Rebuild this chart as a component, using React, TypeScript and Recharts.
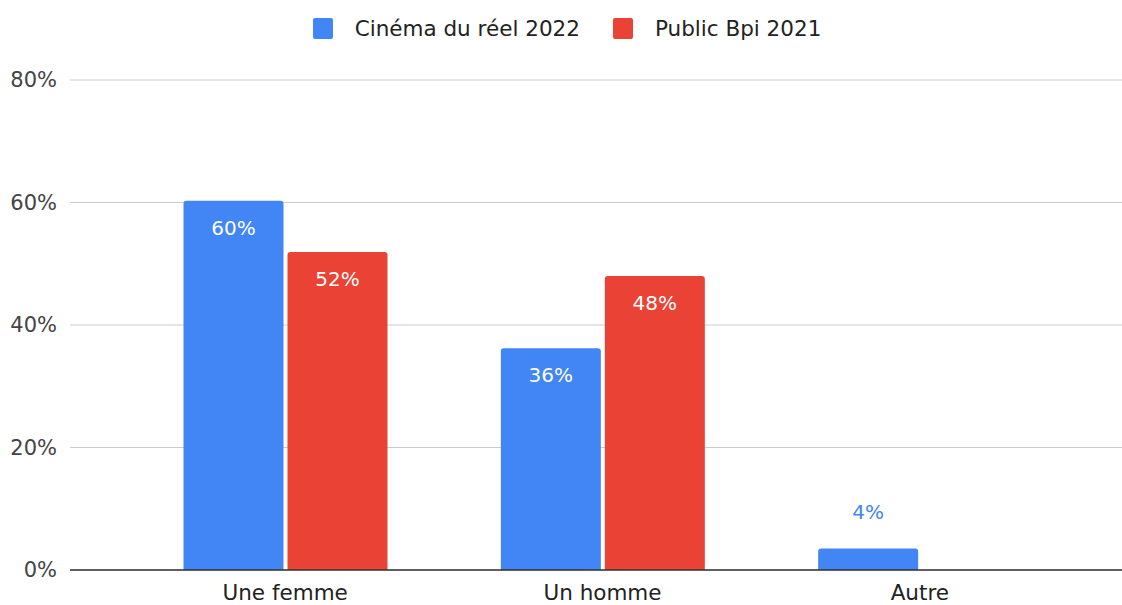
import React from 'react';
import { BarChart, Bar, XAxis, YAxis, CartesianGrid, Legend, LabelList } from 'recharts';

const categories = ['Une femme', 'Un homme', 'Autre'];
const cinemaDuReel2022 = [60.3, 36.2, 3.5];
const publicBpi2021 = [51.9, 48.0, 0];
const seriesNames = ['Cinéma du réel 2022', 'Public Bpi 2021'];
const yTicks = [0, 20, 40, 60, 80];

const BLUE = '#4285F4';
const RED = '#EA4335';
const FONT = '"DejaVu Sans", sans-serif';

const data = categories.map((c, i) => ({
  name: c,
  cinema: cinemaDuReel2022[i],
  bpi: publicBpi2021[i],
}));

const makeLabel = (color: string) => (props: any) => {
  const { x, y, width, height, value } = props;
  if (!value) return null;
  const text = Math.round(Number(value)) + '%';
  const cx = Number(x) + Number(width) / 2;
  const inside = Number(height) > 45;
  return (
    <text
      x={cx}
      y={inside ? Number(y) + 27 : Number(y) - 37}
      textAnchor="middle"
      dominantBaseline="central"
      fill={inside ? '#ffffff' : color}
      fontSize={20}
      fontFamily={FONT}
    >
      {text}
    </text>
  );
};

const LegendContent = () => (
  <div
    style={{
      height: 56,
      display: 'flex',
      justifyContent: 'center',
      alignItems: 'center',
      fontFamily: FONT,
      fontSize: 21.5,
      color: '#222',
      paddingLeft: 12,
      boxSizing: 'border-box',
    }}
  >
    {seriesNames.map((n, i) => (
      <div key={n} style={{ display: 'flex', alignItems: 'center', marginLeft: i === 0 ? 0 : 33 }}>
        <div
          style={{
            width: 20,
            height: 21,
            borderRadius: 2,
            background: i === 0 ? BLUE : RED,
            marginRight: 22,
          }}
        />
        <span>{n}</span>
      </div>
    ))}
  </div>
);

export default function App() {
  return (
    <div style={{ position: 'absolute', left: 0, top: 0, width: 1122, height: 605, background: '#fff' }}>
      <BarChart
        width={1122}
        height={605}
        data={data}
        margin={{ top: 24, right: 0, bottom: 0, left: 0 }}
        barSize={100}
        barGap={4}
      >
        <Legend verticalAlign="top" align="center" content={<LegendContent />} wrapperStyle={{ top: 0, left: 0, width: 1122 }} />
        <CartesianGrid vertical={false} stroke="#cccccc" strokeWidth={1} />
        <XAxis
          dataKey="name"
          height={35}
          padding={{ left: 56.5, right: 43.5 }}
          tickLine={false}
          tickSize={0}
          tickMargin={15}
          axisLine={{ stroke: '#333333', strokeWidth: 1.5 }}
          tick={{ fill: '#222', fontSize: 21.5, fontFamily: FONT }}
        />
        <YAxis
          width={70}
          domain={[0, 80]}
          ticks={yTicks}
          tickFormatter={(v: number) => v + '%'}
          axisLine={false}
          tickLine={false}
          tickSize={0}
          tickMargin={13}
          tick={{ fill: '#444', fontSize: 21, fontFamily: FONT }}
          interval={0}
        />
        <Bar dataKey="cinema" name={seriesNames[0]} fill={BLUE} radius={[3, 3, 0, 0]} isAnimationActive={false}>
          <LabelList dataKey="cinema" content={makeLabel(BLUE)} />
        </Bar>
        <Bar dataKey="bpi" name={seriesNames[1]} fill={RED} radius={[3, 3, 0, 0]} isAnimationActive={false}>
          <LabelList dataKey="bpi" content={makeLabel(RED)} />
        </Bar>
      </BarChart>
    </div>
  );
}
